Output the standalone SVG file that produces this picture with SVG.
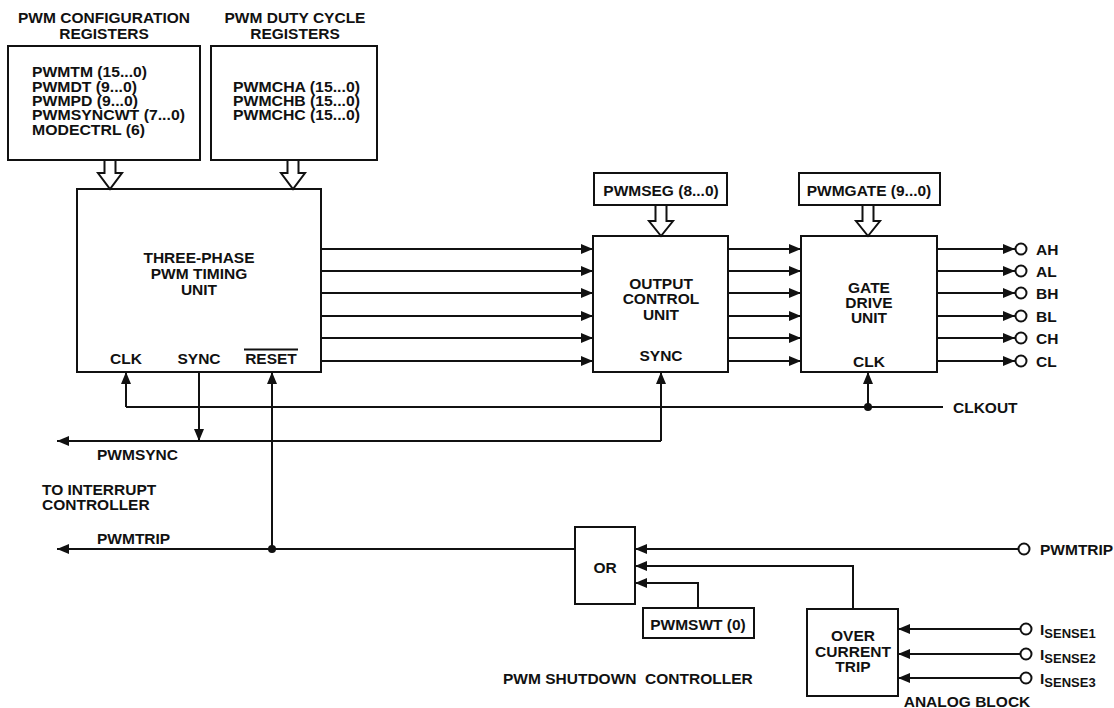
<svg xmlns="http://www.w3.org/2000/svg" width="1114" height="708" viewBox="0 0 1114 708">
<style>
text{font-family:"Liberation Sans",Arial,sans-serif;font-weight:bold;font-size:15.5px;fill:#111}
.c{text-anchor:middle}
.reg{font-size:14.6px}
.box{fill:#fff;stroke:#111;stroke-width:2}
.hol{fill:#fff;stroke:#111;stroke-width:2;stroke-linejoin:miter}
.w{fill:none;stroke:#111;stroke-width:2}
.a{marker-end:url(#ah)}
.pin{fill:#fff;stroke:#111;stroke-width:2}
.sub{font-size:13px}
</style>
<defs>
<marker id="ah" markerUnits="userSpaceOnUse" markerWidth="13" markerHeight="10" refX="12" refY="5" orient="auto">
<path d="M0,0 L12,5 L0,10 z" fill="#111"/>
</marker>
</defs>
<rect width="1114" height="708" fill="#fff"/>

<g id="config-regs">
<text class="c" x="104" y="22.5">PWM CONFIGURATION</text>
<text class="c" x="104" y="38.5">REGISTERS</text>
<rect class="box" x="8" y="46" width="192" height="114"/>
<text class="reg" x="32" y="77" textLength="115" lengthAdjust="spacingAndGlyphs">PWMTM (15...0)</text>
<text class="reg" x="32" y="91.5" textLength="105" lengthAdjust="spacingAndGlyphs">PWMDT (9...0)</text>
<text class="reg" x="32" y="106" textLength="106" lengthAdjust="spacingAndGlyphs">PWMPD (9...0)</text>
<text class="reg" x="32" y="120" textLength="153" lengthAdjust="spacingAndGlyphs">PWMSYNCWT (7...0)</text>
<text class="reg" x="32" y="134.5" textLength="113" lengthAdjust="spacingAndGlyphs">MODECTRL (6)</text>
</g>

<g id="duty-regs">
<text class="c" x="295" y="22.5">PWM DUTY CYCLE</text>
<text class="c" x="295" y="38.5">REGISTERS</text>
<rect class="box" x="211" y="46" width="166" height="114"/>
<text class="reg" x="233" y="91.5" textLength="127" lengthAdjust="spacingAndGlyphs">PWMCHA (15...0)</text>
<text class="reg" x="233" y="105.5" textLength="127" lengthAdjust="spacingAndGlyphs">PWMCHB (15...0)</text>
<text class="reg" x="233" y="119.5" textLength="127" lengthAdjust="spacingAndGlyphs">PWMCHC (15...0)</text>
</g>

<g id="timing-unit">
<rect class="box" x="77" y="189" width="244" height="183"/>
<text class="c" x="199" y="262.5">THREE-PHASE</text>
<text class="c" x="199" y="278.5">PWM TIMING</text>
<text class="c" x="199" y="294.5">UNIT</text>
<text class="c" x="126" y="363.5">CLK</text>
<text class="c" x="199" y="363.5">SYNC</text>
<text class="c" x="271" y="363.5">RESET</text>
<line class="w" x1="244" y1="349.5" x2="298" y2="349.5" stroke-width="1.5"/>
</g>

<g id="pwmseg">
<rect class="box" x="594" y="173" width="133" height="32"/>
<text class="c" x="661" y="195.5">PWMSEG (8...0)</text>
</g>

<g id="pwmgate">
<rect class="box" x="799" y="173" width="141" height="32"/>
<text class="c" x="869" y="195.5">PWMGATE (9...0)</text>
</g>

<g id="output-control">
<rect class="box" x="593" y="236" width="135" height="136"/>
<text class="c" x="661" y="288.5">OUTPUT</text>
<text class="c" x="661" y="303.5">CONTROL</text>
<text class="c" x="661" y="319.5">UNIT</text>
<text class="c" x="661" y="360.5">SYNC</text>
</g>

<g id="gate-drive">
<rect class="box" x="801" y="236" width="136" height="136"/>
<text class="c" x="869" y="292.5">GATE</text>
<text class="c" x="869" y="307.5">DRIVE</text>
<text class="c" x="869" y="322.5">UNIT</text>
<text class="c" x="869" y="366.5">CLK</text>
</g>

<g id="or-gate">
<rect class="box" x="575" y="527" width="60" height="77"/>
<text class="c" x="605" y="572.5">OR</text>
</g>

<g id="pwmswt">
<rect class="box" x="643" y="608" width="111" height="30"/>
<text class="c" x="698" y="629.5">PWMSWT (0)</text>
</g>

<g id="over-current">
<rect class="box" x="807" y="609" width="91" height="87"/>
<text class="c" x="853" y="640.5">OVER</text>
<text class="c" x="853" y="656.5">CURRENT</text>
<text class="c" x="853" y="671.5">TRIP</text>
<text class="c" x="967" y="707">ANALOG BLOCK</text>
</g>

<g id="labels">
<text x="953" y="412.5">CLKOUT</text>
<text x="97" y="459.5">PWMSYNC</text>
<text x="42" y="494.5">TO INTERRUPT</text>
<text x="42" y="509.5">CONTROLLER</text>
<text x="97" y="543.5">PWMTRIP</text>
<text x="503" y="683.5" style="white-space:pre">PWM SHUTDOWN  CONTROLLER</text>
</g>

<g id="pins">
<circle class="pin" cx="1021" cy="249" r="5.5"/>
<circle class="pin" cx="1021" cy="271" r="5.5"/>
<circle class="pin" cx="1021" cy="293" r="5.5"/>
<circle class="pin" cx="1021" cy="316" r="5.5"/>
<circle class="pin" cx="1021" cy="338" r="5.5"/>
<circle class="pin" cx="1021" cy="361" r="5.5"/>
<text x="1036" y="254.5">AH</text>
<text x="1036" y="276.5">AL</text>
<text x="1036" y="298.5">BH</text>
<text x="1036" y="321.5">BL</text>
<text x="1036" y="343.5">CH</text>
<text x="1036" y="366.5">CL</text>
<circle class="pin" cx="1024" cy="549" r="5.5"/>
<text x="1040" y="554.5">PWMTRIP</text>
<circle class="pin" cx="1026" cy="629" r="5.5"/>
<circle class="pin" cx="1026" cy="654" r="5.5"/>
<circle class="pin" cx="1026" cy="678" r="5.5"/>
<text x="1040" y="634.5">I<tspan class="sub" dy="3">SENSE1</tspan></text>
<text x="1040" y="659.5">I<tspan class="sub" dy="3">SENSE2</tspan></text>
<text x="1040" y="683.5">I<tspan class="sub" dy="3">SENSE3</tspan></text>
</g>

<g id="connectors">
<polygon class="hol" points="104.5,160 104.5,173 98,173 110,189 122,173 115.5,173 115.5,160"/>
<polygon class="hol" points="287.5,160 287.5,173 281,173 293,189 305,173 298.5,173 298.5,160"/>
<polygon class="hol" points="655.5,205 655.5,221 649,221 661,236 673,221 666.5,221 666.5,205"/>
<polygon class="hol" points="862.5,205 862.5,221 856,221 868,236 880,221 873.5,221 873.5,205"/>

<path class="w a" d="M321,249H593"/>
<path class="w a" d="M321,271H593"/>
<path class="w a" d="M321,293H593"/>
<path class="w a" d="M321,316H593"/>
<path class="w a" d="M321,338H593"/>
<path class="w a" d="M321,361H593"/>

<path class="w a" d="M728,249H801"/>
<path class="w a" d="M728,271H801"/>
<path class="w a" d="M728,293H801"/>
<path class="w a" d="M728,316H801"/>
<path class="w a" d="M728,338H801"/>
<path class="w a" d="M728,361H801"/>

<path class="w a" d="M937,249H1015"/>
<path class="w a" d="M937,271H1015"/>
<path class="w a" d="M937,293H1015"/>
<path class="w a" d="M937,316H1015"/>
<path class="w a" d="M937,338H1015"/>
<path class="w a" d="M937,361H1015"/>

<path class="w" d="M943,407H126"/>
<path class="w a" d="M126,407V372"/>
<path class="w a" d="M868,407V372"/>
<circle cx="868" cy="407" r="4" fill="#111"/>

<path class="w a" d="M199,372V441"/>
<path class="w a" d="M661,441V372"/>
<path class="w a" d="M661,441H57"/>

<path class="w a" d="M575,549H57"/>
<path class="w a" d="M272,549V372"/>
<circle cx="272" cy="549" r="4" fill="#111"/>

<path class="w a" d="M1018.5,549H635"/>
<path class="w a" d="M853,609V566H635"/>
<path class="w a" d="M698,608V583H635"/>

<path class="w a" d="M1020.5,629H898"/>
<path class="w a" d="M1020.5,654H898"/>
<path class="w a" d="M1020.5,678H898"/>
</g>
</svg>
